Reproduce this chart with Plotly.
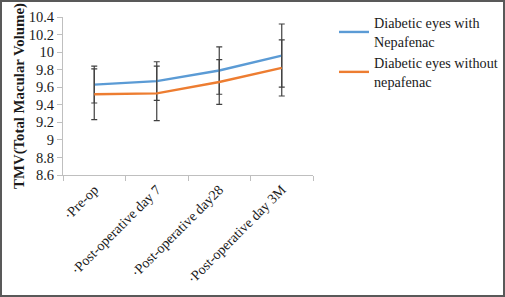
import plotly.graph_objects as go

categories = ["·Pre-op", "·Post-operative day 7", "·Post-operative day28", "·Post-operative day 3M"]
with_nepafenac = [9.63, 9.67, 9.79, 9.96]
with_sd = [0.21, 0.22, 0.27, 0.36]
without_nepafenac = [9.52, 9.53, 9.66, 9.82]
without_sd = [0.29, 0.31, 0.255, 0.32]
y_ticks = [8.6, 8.8, 9, 9.2, 9.4, 9.6, 9.8, 10, 10.2, 10.4]
y_tick_text = ["8.6", "8.8", "9", "9.2", "9.4", "9.6", "9.8", "10", "10.2", "10.4"]

W, H = 505, 297
L, R, T, B = 63, 192, 17, 122
font_family = "Liberation Serif, Times New Roman, serif"

fig = go.Figure()
fig.add_trace(go.Scatter(
    x=categories, y=with_nepafenac, mode="lines",
    name="Diabetic eyes with<br>Nepafenac",
    line=dict(color="#5b9bd5", width=2.4),
    error_y=dict(type="data", array=with_sd, visible=True, color="#404040", thickness=1.2, width=3),
))
fig.add_trace(go.Scatter(
    x=categories, y=without_nepafenac, mode="lines",
    name="Diabetic eyes without<br>nepafenac",
    line=dict(color="#ed7d31", width=2.4),
    error_y=dict(type="data", array=without_sd, visible=True, color="#404040", thickness=1.2, width=3),
))

pw = W - L - R
ph = H - T - B
def px_to_paper_x(p):
    return (p - L) / pw
def px_to_paper_y(p):
    return 1 - (p - T) / ph

fig.add_shape(type="rect", xref="paper", yref="paper",
              x0=px_to_paper_x(1), x1=px_to_paper_x(504),
              y0=px_to_paper_y(296), y1=px_to_paper_y(1),
              line=dict(color="#595959", width=2), fillcolor="rgba(0,0,0,0)", layer="below")

fig.update_layout(
    width=W, height=H,
    margin=dict(l=L, r=R, t=T, b=B, autoexpand=False),
    paper_bgcolor="white", plot_bgcolor="white",
    font=dict(family=font_family, size=14, color="#1a1a1a"),
    showlegend=True,
    legend=dict(x=px_to_paper_x(334), y=px_to_paper_y(7), xanchor="left", yanchor="top",
                font=dict(size=14.2, family=font_family, color="#1a1a1a"),
                tracegroupgap=0, itemwidth=30, bgcolor="rgba(0,0,0,0)"),
    xaxis=dict(showgrid=False, showline=True, linecolor="#bfbfbf", linewidth=1,
               ticks="outside", tickcolor="#bfbfbf", ticklen=5, tickson="boundaries",
               tickangle=-45, tickfont=dict(size=14, family=font_family, color="#1a1a1a"),
               range=[-0.5, 3.5], automargin=False),
    yaxis=dict(showgrid=False, showline=True, linecolor="#bfbfbf", linewidth=1,
               ticks="outside", tickcolor="#bfbfbf", ticklen=5,
               range=[8.6, 10.4], tickvals=y_ticks, ticktext=y_tick_text,
               tickfont=dict(size=14.5, family=font_family, color="#1a1a1a"),
               automargin=False,
               title=dict(text="<b>TMV(Total Macular Volume)</b>", standoff=0,
                          font=dict(size=14.8, family=font_family, color="#1a1a1a"))),
)

fig.write_html("out.html", config={"displayModeBar": False},
               post_script="document.body.style.margin='0';document.body.style.overflow='hidden';")
